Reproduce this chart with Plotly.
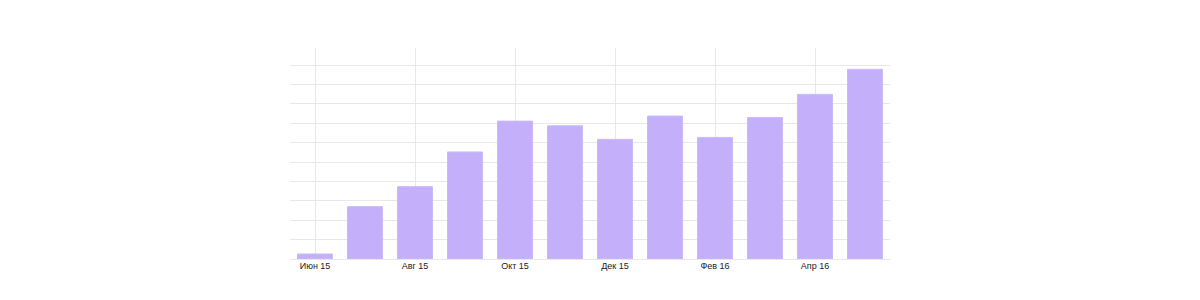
import plotly.graph_objects as go

months = ["Июн 15", "Июл 15", "Авг 15", "Сен 15", "Окт 15", "Ноя 15",
          "Дек 15", "Янв 16", "Фев 16", "Мар 16", "Апр 16", "Май 16"]
values = [0.26, 2.7, 3.73, 5.52, 7.11, 6.87, 6.17, 7.37, 6.27, 7.30, 8.49, 9.78]
tick_labels = ["Июн 15", "Авг 15", "Окт 15", "Дек 15", "Фев 16", "Апр 16"]

fig = go.Figure(go.Bar(
    x=months, y=values,
    marker=dict(color="#c4b0fa", line=dict(color="#cbbafb", width=1)),
))

fig.update_layout(
    width=1200, height=300,
    margin=dict(l=290, r=310, t=48, b=41),
    paper_bgcolor="white", plot_bgcolor="white",
    bargap=0.3, showlegend=False,
    font=dict(family="Liberation Sans, Arial, sans-serif", size=9, color="#222"),
)
fig.update_xaxes(
    type="category", range=[-0.5, 11.5],
    tickvals=tick_labels, ticktext=tick_labels,
    showgrid=True, gridcolor="#e8e8e8", gridwidth=1,
    showline=False, ticks="", tickfont=dict(size=9, color="#222"),
)
fig.update_yaxes(
    range=[0, 10.88], dtick=1, tick0=0,
    showgrid=True, gridcolor="#e8e8e8", gridwidth=1,
    showticklabels=False, zeroline=True, zerolinecolor="#e8e8e8", zerolinewidth=1,
)

fig.write_html("out.html")
